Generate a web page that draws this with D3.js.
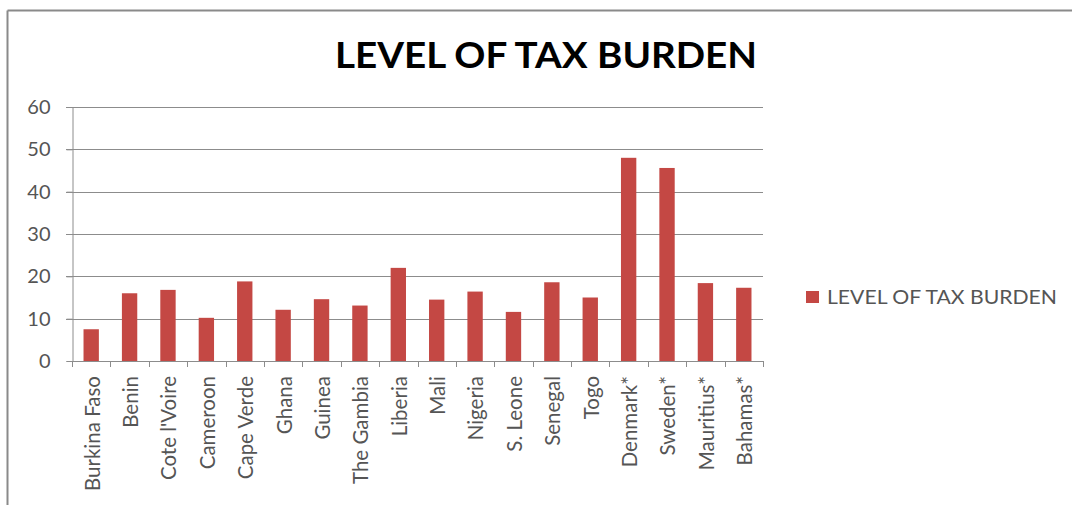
<!DOCTYPE html>
<html>
<head>
<meta charset="utf-8">
<script src="https://cdn.jsdelivr.net/npm/d3@7"></script>
<style>
  html, body { margin: 0; padding: 0; background: #ffffff; }
  svg { display: block; }
</style>
</head>
<body>
<svg id="chart" width="1072" height="505"></svg>
<script>
// Tax burden by country (% of GDP); starred entries are comparison countries
const countries = ["Burkina Faso", "Benin", "Cote l'Voire", "Cameroon", "Cape Verde", "Ghana",
  "Guinea", "The Gambia", "Liberia", "Mali", "Nigeria", "S. Leone", "Senegal", "Togo",
  "Denmark*", "Sweden*", "Mauritius*", "Bahamas*"];
const taxBurden = [7.5, 16.0, 16.8, 10.2, 18.8, 12.1, 14.6, 13.1, 22.0, 14.5, 16.4, 11.6,
  18.6, 15.0, 48.0, 45.6, 18.4, 17.3];
const yTicks = [0, 10, 20, 30, 40, 50, 60];
const seriesName = "LEVEL OF TAX BURDEN";
const chartTitle = "LEVEL OF TAX BURDEN";

const svg = d3.select("#chart");
const font = "Lato, 'Open Sans', sans-serif";
const barColor = "#c44844";
const gridColor = "#8c8c8c";
const textColor = "#555555";

// outer chart frame (top and left edges visible)
svg.append("line").attr("x1", 7.5).attr("x2", 1072).attr("y1", 10.5).attr("y2", 10.5)
  .attr("stroke", "#8a8a8a").attr("stroke-width", 2);
svg.append("line").attr("x1", 7.5).attr("x2", 7.5).attr("y1", 10.5).attr("y2", 505)
  .attr("stroke", "#8a8a8a").attr("stroke-width", 2);

const plot = { left: 72, right: 763, top: 107, bottom: 361 };

const x = d3.scaleBand().domain(countries).range([plot.left, plot.right])
  .paddingInner(0.6).paddingOuter(0.3);
const xTickScale = d3.scaleLinear().domain([0, countries.length]).range([plot.left, plot.right]);
const y = d3.scaleLinear().domain([0, 60]).range([plot.bottom, plot.top]);

// horizontal gridlines
svg.append("g").selectAll("line").data(yTicks.filter(d => d > 0)).join("line")
  .attr("x1", plot.left - 6).attr("x2", plot.right)
  .attr("y1", d => Math.round(y(d)) + 0.5).attr("y2", d => Math.round(y(d)) + 0.5)
  .attr("stroke", gridColor).attr("stroke-width", 1);

// y axis
const yAxis = svg.append("g").attr("transform", `translate(${plot.left + 0.5},0)`)
  .call(d3.axisLeft(y).tickValues(yTicks).tickSize(6).tickPadding(16));
yAxis.select(".domain").attr("stroke", gridColor);
yAxis.selectAll(".tick line").attr("stroke", gridColor);
yAxis.selectAll(".tick text").attr("fill", textColor).style("font-family", font)
  .style("font-size", "20px");

// bars
svg.append("g").selectAll("rect").data(countries).join("rect")
  .attr("x", d => x(d))
  .attr("width", x.bandwidth())
  .attr("y", (d, i) => y(taxBurden[i]))
  .attr("height", (d, i) => y(0) - y(taxBurden[i]))
  .attr("fill", barColor);

// category axis: baseline and tick marks between categories
const xAxis = svg.append("g");
xAxis.append("line").attr("x1", plot.left).attr("x2", plot.right)
  .attr("y1", plot.bottom + 0.5).attr("y2", plot.bottom + 0.5).attr("stroke", gridColor);
xAxis.selectAll("line.tick").data(d3.range(countries.length + 1)).join("line")
  .attr("class", "tick")
  .attr("x1", d => Math.round(xTickScale(d)) + 0.5).attr("x2", d => Math.round(xTickScale(d)) + 0.5)
  .attr("y1", plot.bottom).attr("y2", plot.bottom + 6).attr("stroke", gridColor);
xAxis.selectAll("text").data(countries).join("text")
  .attr("transform", d => `translate(${x(d) + x.bandwidth() / 2 + 1},${plot.bottom + 15}) rotate(-90)`)
  .attr("text-anchor", "end").attr("dy", "0.36em")
  .attr("fill", textColor).style("font-family", font).style("font-size", "20.5px")
  .text(d => d);

// title
svg.append("text").attr("x", 546).attr("y", 68).attr("text-anchor", "middle")
  .attr("fill", "#000").style("font-family", font).style("font-weight", "bold")
  .style("font-size", "36px").attr("textLength", 422).attr("lengthAdjust", "spacingAndGlyphs")
  .text(chartTitle);

// legend
const legend = svg.append("g").attr("transform", "translate(806,291)");
legend.append("rect").attr("width", 13).attr("height", 12).attr("fill", barColor);
legend.append("text").attr("x", 21).attr("y", 12.5).attr("fill", textColor)
  .style("font-family", font).style("font-size", "19px")
  .attr("textLength", 230).attr("lengthAdjust", "spacingAndGlyphs")
  .text(seriesName);
</script>
</body>
</html>
